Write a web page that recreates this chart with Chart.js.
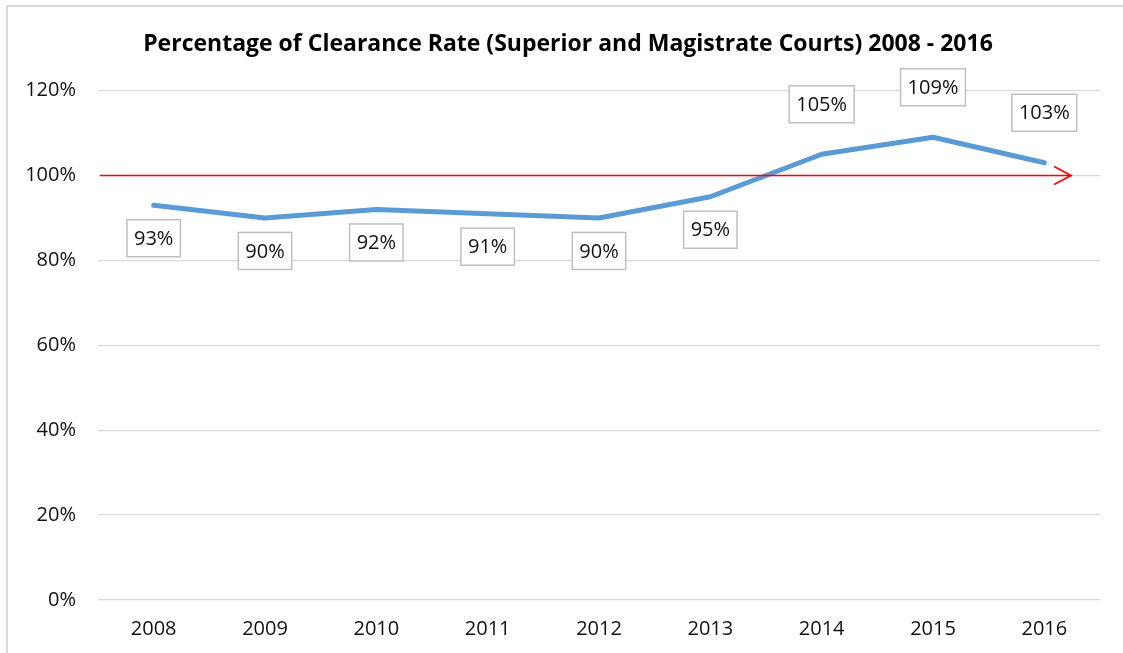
<!DOCTYPE html>
<html>
<head>
<meta charset="utf-8">
<script src="https://cdn.jsdelivr.net/npm/chart.js@4.4.0/dist/chart.umd.min.js"></script>
<style>
  html, body { margin: 0; padding: 0; background: #fff; overflow: hidden; }
  #frame { position: absolute; left: 6px; top: 5px; width: 1300px; height: 800px; border: 2px solid #d9d9d9; }
  #wrap { position: absolute; left: 0; top: 0; width: 1123px; height: 653px; }
</style>
</head>
<body>
<div id="frame"></div>
<div id="wrap"><canvas id="chart" width="1123" height="653"></canvas></div>
<script>
// data
const years = ["2008", "2009", "2010", "2011", "2012", "2013", "2014", "2015", "2016"];
const clearance = [93, 90, 92, 91, 90, 95, 105, 109, 103];
const target = 100;
const yTicks = [0, 20, 40, 60, 80, 100, 120];

const FONT = "'Open Sans', 'Liberation Sans', sans-serif";

// red arrow at the 100% target
const arrowPlugin = {
  id: "arrow",
  afterDatasetsDraw(chart) {
    const ctx = chart.ctx;
    const x = chart.scales.x, y = chart.scales.y;
    const step = x.getPixelForValue(1) - x.getPixelForValue(0);
    const x0 = chart.chartArea.left + 2;
    const x1 = x.getPixelForValue(years.length - 1) + step * 0.24;
    const py = y.getPixelForValue(target);
    ctx.save();
    ctx.strokeStyle = "#ff0000";
    ctx.lineWidth = 1.6;
    ctx.beginPath();
    ctx.moveTo(x0, py);
    ctx.lineTo(x1, py);
    ctx.moveTo(x1 - 17, py - 9);
    ctx.lineTo(x1, py);
    ctx.lineTo(x1 - 17, py + 9);
    ctx.stroke();
    ctx.restore();
  }
};

// boxed value labels
const labelPlugin = {
  id: "boxLabels",
  afterDraw(chart) {
    const ctx = chart.ctx;
    const meta = chart.getDatasetMeta(0);
    ctx.save();
    ctx.font = "20px " + FONT;
    ctx.textAlign = "center";
    ctx.textBaseline = "middle";
    meta.data.forEach((pt, i) => {
      const v = clearance[i];
      const txt = v + "%";
      const w = ctx.measureText(txt).width + 14;
      const h = 37;
      const cy = v > target ? pt.y - 50 : pt.y + 33;
      ctx.fillStyle = "#fff";
      ctx.fillRect(pt.x - w / 2, cy - h / 2, w, h);
      ctx.strokeStyle = "#bfbfbf";
      ctx.lineWidth = 1.5;
      ctx.strokeRect(pt.x - w / 2, cy - h / 2, w, h);
      ctx.fillStyle = "#111";
      ctx.fillText(txt, pt.x, cy + 1);
    });
    ctx.restore();
  }
};

const chart = new Chart(document.getElementById("chart").getContext("2d"), {
  type: "line",
  data: {
    labels: years,
    datasets: [{
      label: "Clearance rate",
      data: clearance,
      borderColor: "#5b9bd5",
      borderWidth: 5,
      borderCapStyle: "round",
      borderJoinStyle: "round",
      pointRadius: 0,
      tension: 0,
      fill: false
    }]
  },
  options: {
    responsive: false,
    animation: false,
    layout: { padding: { top: 20, right: 0, left: 13, bottom: 0 } },
    plugins: {
      legend: { display: false },
      tooltip: { enabled: false },
      title: {
        display: true,
        text: "Percentage of Clearance Rate (Superior and Magistrate Courts) 2008 - 2016",
        color: "#000",
        font: { family: FONT, size: 23, weight: "bold" },
        padding: { top: 11, bottom: 32 }
      }
    },
    scales: {
      x: {
        offset: true,
        grid: { display: false, drawTicks: false },
        border: { display: false },
        ticks: { color: "#111", padding: 17, font: { family: FONT, size: 20 } },
        afterFit(s) { s.height = 53; }
      },
      y: {
        min: 0,
        max: 120,
        afterBuildTicks(s) { s.ticks = yTicks.map(v => ({ value: v })); },
        grid: { color: "#d9d9d9", lineWidth: 1.3, drawTicks: false },
        border: { display: false },
        ticks: {
          color: "#111",
          padding: 22,
          font: { family: FONT, size: 20 },
          callback: v => v + "%"
        },
        afterFit(s) { s.width = 85; }
      },
      // empty right margin
      yr: {
        position: "right",
        display: true,
        grid: { display: false },
        border: { display: false },
        ticks: { display: false },
        afterFit(s) { s.width = 23; }
      }
    }
  },
  plugins: [arrowPlugin, labelPlugin]
});
</script>
</body>
</html>
